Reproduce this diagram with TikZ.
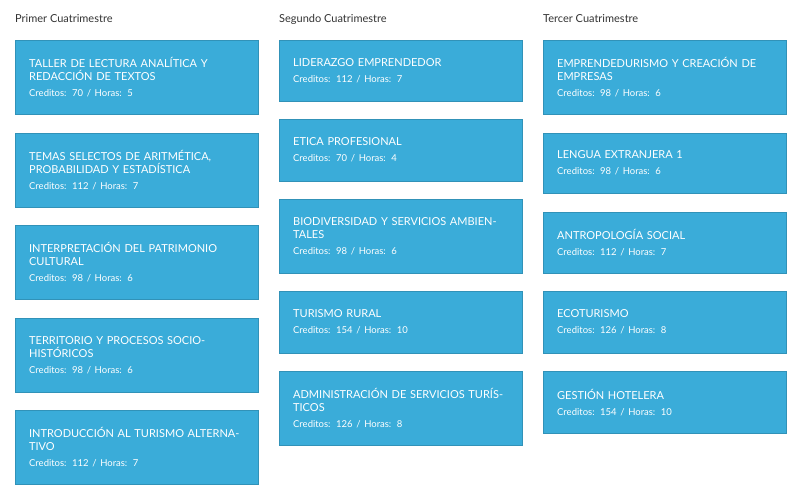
\documentclass[tikz,border=0pt]{standalone}
\usepackage{fontspec}
\setmainfont{Lato}
\usepackage{tikz}
\usetikzlibrary{positioning}
\definecolor{boxblue}{HTML}{3AACD9}
\definecolor{headgrey}{HTML}{333333}
\newcommand{\materia}[6]{%
\node [course,minimum height=#4] at (#2,#3) (#1) {#5\\[3pt]{\fontsize{9.5}{11}\selectfont #6}};}
\begin{document}
\begin{tikzpicture}[x=1pt,y=-1pt]
\tikzstyle{course}=[anchor=north west,fill=boxblue,text=white,draw=boxblue!85!black,line width=0.3pt,
  minimum width=243,text width=215,inner xsep=14,inner ysep=6,align=left,
  font=\fontsize{11}{13}\selectfont]
\tikzstyle{heading}=[anchor=west,text=headgrey,inner sep=0,font=\fontsize{11}{13}\selectfont]
\useasboundingbox [fill=white] (0,0) rectangle (800,500);
\node [heading] at (15,19) (h1) {Primer Cuatrimestre};
\node [heading] at (279,19) (h2) {Segundo Cuatrimestre};
\node [heading] at (543,19) (h3) {Tercer Cuatrimestre};

\materia{a1}{15}{40}{74}{TALLER DE LECTURA ANALÍTICA Y REDACCIÓN DE TEXTOS}{Creditos: 70 / Horas: 5}
\materia{a2}{15}{133}{74}{TEMAS SELECTOS DE ARITMÉTICA, PROBABILIDAD Y ESTADÍSTICA}{Creditos: 112 / Horas: 7}
\materia{a3}{15}{225}{74}{INTERPRETACIÓN DEL PATRIMONIO CULTURAL}{Creditos: 98 / Horas: 6}
\materia{a4}{15}{318}{74}{TERRITORIO Y PROCESOS SOCIOHISTÓRICOS}{Creditos: 98 / Horas: 6}
\materia{a5}{15}{410}{74}{INTRODUCCIÓN AL TURISMO ALTERNATIVO}{Creditos: 112 / Horas: 7}

\materia{b1}{279}{40}{61}{LIDERAZGO EMPRENDEDOR}{Creditos: 112 / Horas: 7}
\materia{b2}{279}{119}{62}{ETICA PROFESIONAL}{Creditos: 70 / Horas: 4}
\materia{b3}{279}{199}{74}{BIODIVERSIDAD Y SERVICIOS AMBIENTALES}{Creditos: 98 / Horas: 6}
\materia{b4}{279}{291}{62}{TURISMO RURAL}{Creditos: 154 / Horas: 10}
\materia{b5}{279}{371}{74}{ADMINISTRACIÓN DE SERVICIOS TURÍSTICOS}{Creditos: 126 / Horas: 8}

\materia{c1}{543}{40}{74}{EMPRENDEDURISMO Y CREACIÓN DE EMPRESAS}{Creditos: 98 / Horas: 6}
\materia{c2}{543}{133}{60}{LENGUA EXTRANJERA 1}{Creditos: 98 / Horas: 6}
\materia{c3}{543}{212}{61}{ANTROPOLOGÍA SOCIAL}{Creditos: 112 / Horas: 7}
\materia{c4}{543}{291}{62}{ECOTURISMO}{Creditos: 126 / Horas: 8}
\materia{c5}{543}{371}{62}{GESTIÓN HOTELERA}{Creditos: 154 / Horas: 10}
\end{tikzpicture}
\end{document}
